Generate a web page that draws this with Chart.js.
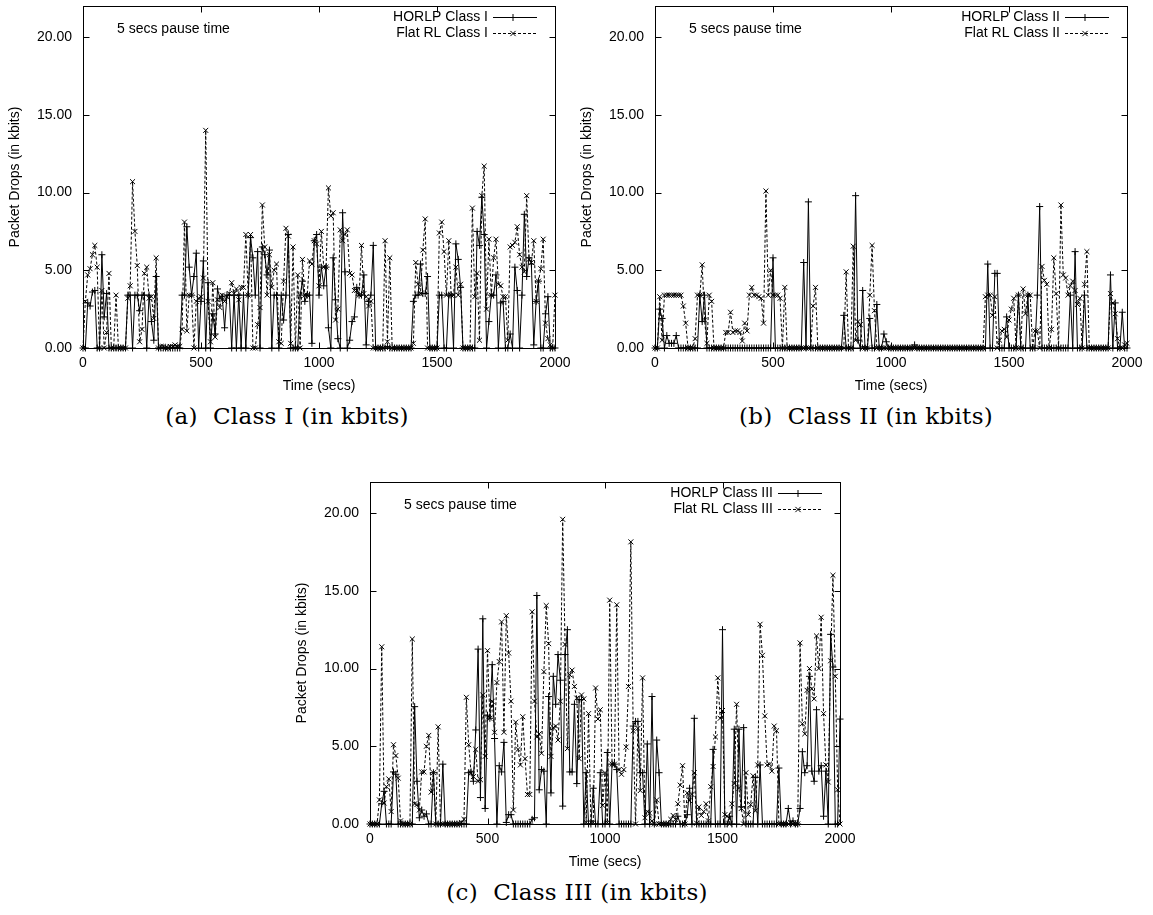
<!DOCTYPE html>
<html><head><meta charset="utf-8">
<script src="https://cdn.jsdelivr.net/npm/chart.js@4.4.0/dist/chart.umd.min.js"></script>
<style>
body{margin:0;background:#fff;width:1153px;height:915px;position:relative;overflow:hidden;font-family:"Liberation Sans",Arial,sans-serif}
canvas{position:absolute}
.cap{position:absolute;font-family:"DejaVu Serif",serif;font-size:23px;letter-spacing:0.3px;color:#000;white-space:pre;transform:translate(-50%,-50%)}
</style></head><body>
<canvas id="c1" width="578" height="400" style="left:0px;top:0px"></canvas>
<canvas id="c2" width="575" height="400" style="left:578px;top:0px"></canvas>
<canvas id="c3" width="575" height="400" style="left:288px;top:477px"></canvas>
<div class="cap" style="left:287px;top:416px">(a)  Class I (in kbits)</div>
<div class="cap" style="left:866px;top:416px">(b)  Class II (in kbits)</div>
<div class="cap" style="left:577px;top:892px">(c)  Class III (in kbits)</div>
<script>
// ---- data ----
const times = [0,10,20,30,40,50,60,70,80,90,100,110,120,130,140,150,160,170,180,190,200,210,220,230,240,250,260,270,280,290,300,310,320,330,340,350,360,370,380,390,400,410,420,430,440,450,460,470,480,490,500,510,520,530,540,550,560,570,580,590,600,610,620,630,640,650,660,670,680,690,700,710,720,730,740,750,760,770,780,790,800,810,820,830,840,850,860,870,880,890,900,910,920,930,940,950,960,970,980,990,1000,1010,1020,1030,1040,1050,1060,1070,1080,1090,1100,1110,1120,1130,1140,1150,1160,1170,1180,1190,1200,1210,1220,1230,1240,1250,1260,1270,1280,1290,1300,1310,1320,1330,1340,1350,1360,1370,1380,1390,1400,1410,1420,1430,1440,1450,1460,1470,1480,1490,1500,1510,1520,1530,1540,1550,1560,1570,1580,1590,1600,1610,1620,1630,1640,1650,1660,1670,1680,1690,1700,1710,1720,1730,1740,1750,1760,1770,1780,1790,1800,1810,1820,1830,1840,1850,1860,1870,1880,1890,1900,1910,1920,1930,1940,1950,1960,1970,1980,1990,2000];
const xTicks = [0,500,1000,1500,2000];
const yTicks = [0,5,10,15,20];

const horlpClassI = [
0,0,2.9,2.7,3.6,3.7,0,0,6.0,2.0,
3.5,0,0,0,0,0,0,0,0,3.4,
3.4,0,3.4,3.4,2.4,3.4,3.4,0,3.4,1.7,
0.5,4.6,0,0,0,0,0,0,0,0,
0,0,3.4,3.4,7.8,5.2,3.4,4.6,6.1,0,
3.0,5.6,0,4.2,0,2.2,0.9,3.8,3.2,3.3,
1.3,3.4,3.4,0,3.4,0,3.4,0,3.4,0,
3.4,7.1,5.8,3.4,6.2,0,6.5,6.0,4.7,6.3,
0,3.4,3.4,0,3.4,1.8,3.4,7.3,0,0,
0,0,3.4,4.3,3.0,3.4,3.4,0.3,6.9,7.3,
3.4,5.2,4.0,5.2,1.3,0,5.8,3.1,0.6,0,
8.7,4.9,0,0.5,1.7,2.0,3.9,3.4,3.4,4.7,
0.2,3.0,3.4,6.6,0,0,0,0,0,0.1,
0,0,0,0,0,0,0,0,0,0,
3.0,3.4,3.4,5.4,3.5,3.5,4.6,0,0,0,
0,3.4,3.4,0,0,3.4,3.4,0,6.7,5.7,
3.9,0,0,0,0,0,0,7.5,6.6,9.7,
7.3,0,1.7,3.4,3.4,4.7,0,2.9,3.0,0,
0,0.9,0,5.2,3.7,0,3.4,8.6,4.6,5.8,
5.4,0.2,3.0,4.3,0,0,2.2,3.3,0,0,
0];
const flatClassI = [
0,3.0,4.7,5.1,6.0,6.6,5.2,0,3.7,0,
1.0,4.8,0,0,3.4,0,0,0,0,3.2,
4.0,10.7,7.5,5.3,0.4,1.2,4.8,5.2,3.2,3.3,
1.9,5.8,0,0.1,0.1,0,0,0.1,0.1,0.2,
0.1,0.1,1.2,8.1,1.1,3.4,3.4,0,3.0,3.2,
3.3,4.5,14.0,3.0,0.4,4.2,0.7,3.1,2.6,3.4,
3.0,3.3,3.5,4.2,3.5,3.8,3.1,3.9,3.9,7.3,
3.4,7.3,0,0,1.5,2.6,9.2,6.5,3.4,6.0,
3.9,5.0,5.4,0.4,0.3,4.3,7.7,7.2,0.3,6.5,
0,4.7,0,5.7,3.4,3.4,5.6,5.4,6.9,6.7,
4.0,7.5,5.2,5.2,10.3,8.5,8.7,1.8,2.5,7.6,
6.9,7.3,7.6,4.8,4.7,3.7,3.7,3.4,6.6,3.5,
3.3,2.7,3.0,0,0,0,0,0,6.9,0.4,
5.8,0,0,0,0,0,0,0,0,0,
0.3,5.5,4.1,3.5,6.3,8.3,0,0,0,0,
0,7.4,8.1,6.2,3.4,6.9,3.4,3.4,5.2,3.4,
4.1,0,0,0,0,9.0,3.3,4.8,0.5,9.8,
11.7,2.5,7.0,3.4,5.8,7.0,4.1,4.0,3.3,3.3,
0.5,6.5,6.6,6.8,7.8,6.0,5.2,4.9,9.8,5.7,
5.5,6.9,3.0,4.3,5.1,7.0,1.6,0.6,0.2,0,
3.4];

const horlpClassII = [
0,0,2.5,1.9,0,0.8,0.3,0.3,0.3,0.8,
0,0,0,0,0,0,0,0,0,3.4,
1.7,3.4,0,0,0,0,0,0,0,0,
0,0,0,0,0,0,0,0,0,0,
0,0,0,0,0,0,0,0,0,0,
5.8,0,0,0,0,0,0,0,0,0,
0,0,0,5.5,0,9.4,0,0,0,0,
0,0,0,0,0,0,0,0,0,0,
2.1,0,0,0,0,9.8,0.5,0,3.7,0,
0,1.9,0,0,2.8,0,0,0.9,0.4,0,
0,0,0,0,0,0,0,0,0,0,
0.2,0,0,0,0,0,0,0,0,0,
0,0,0,0,0,0,0,0,0,0,
0,0,0,0,0,0,0,0,0,0,
0,5.4,0,0,4.8,4.8,0,0,0,2.0,
0,0,0,0,3.4,0,0,0,3.4,0,
0,0,3.4,9.1,0,0,0,0,0,0,
0,0,0,0,0,0,3.4,0,6.2,0,
0,0,3.4,0,0,0,0,0,0,0,
0,0,0,4.7,0,2.9,0,0,2.3,0,
0];
const flatClassII = [
0,0,3.3,0.5,3.4,3.4,3.4,3.4,3.4,3.4,
3.4,3.4,2.7,1.6,0,0,0,0.6,3.4,3.4,
5.35,1.8,0.3,3.4,3.0,0,0,0,0,0,
1.0,1.0,2.3,1.0,1.1,1.1,1.0,0.45,1.6,1.1,
3.4,3.9,3.4,3.4,3.3,3.2,1.6,10.1,3.4,5.0,
3.4,3.4,3.4,3.2,0,3.9,0,0,0,0,
0,0,0,0,0,0,0,2.7,3.9,0,
0,0,0,0,0,0,0,0,0,0,
0,4.9,0,0,6.55,0.5,1.7,1.5,0,0,
0,3.4,6.6,2.4,0,0,0,0,0,0,
0,0,0,0,0,0,0,0,0,0,
0,0,0,0,0,0,0,0,0,0,
0,0,0,0,0,0,0,0,0,0,
0,0,0,0,0,0,0,0,0,0,
3.3,3.4,3.4,2.1,3.3,0,0.5,1.1,1.2,0.7,
1.8,2.5,3.2,0,3.4,0,3.8,2.2,3.4,3.4,
0,1.1,1.1,0,5.25,4.35,4.1,0,1.2,5.8,
3.5,0,9.2,4.7,4.5,3.4,4.0,4.3,3.7,2.8,
3.2,0,4.1,6.2,0,0,0,0,0,0,
0,0,0,3.5,2.9,2.2,0.6,0,0,0.2,
0.3];

const horlpClassIII = [
0,0,0,0,0,1.3,2.1,0,0,0,
3.35,3.2,0,0,0,0,0,0,0,7.55,
2.75,0.4,0.9,0.5,0.65,0,0,3.3,0,0,
0,3.85,0,0,0,0,0,0,0,0,
0,0,3.3,3.35,2.75,6.05,11.25,1.7,13.2,1.0,
7.0,6.8,10.25,5.5,0,3.75,3.35,5.25,0.1,0.6,
0.6,0,0,0,0,0,0,0,0,0.3,
0.4,14.7,2.2,3.5,3.4,0,8.2,2.0,9.5,7.7,
10.9,9.25,1.15,10.9,12.5,3.35,3.35,7.7,2.6,8.0,
8.0,0,3.3,0,0,2.3,0,0,3.3,0,
0,4.6,0,3.85,3.85,3.5,0,0,0,0,
0,0,6.3,6.6,6.6,3.3,3.3,0,5.15,0,
8.2,0,5.4,3.3,0,0,0,0,0,0,
0,0.5,0,0,0,0.6,2.3,0,6.8,0,
0,0,0,0,0,0,4.8,0,0,0,
12.5,0,0,0.5,0,6.1,0,6.1,1.1,6.2,
0,0,0,0,3.0,0,3.8,0,0,0,
0,0,0,0,3.6,0,0,0,1.0,0,
0.2,0,0,1.0,4.65,3.3,3.75,9.5,3.4,2.75,
7.35,3.4,3.75,0.5,3.4,0,12.2,10.1,0,0,
6.75];
const flatClassIII = [
0,0,0,0,1.55,11.4,1.35,2.4,2.9,0.8,
5.1,4.4,2.95,0.2,0,0,0,0,11.9,1.3,
1.25,0.9,3.35,3.35,5.0,5.7,2.05,3.3,0,6.25,
0,0,0,0,0,0,0,0,0,0.1,
0.3,8.15,5.1,3.3,3.05,4.8,2.75,2.85,8.3,4.35,
11.15,6.8,7.9,5.9,9.1,10.45,13.0,5.9,13.4,11.0,
7.9,0.9,6.55,4.8,3.8,6.9,4.2,1.9,1.9,13.65,
7.9,5.6,5.8,4.55,9.8,14.05,11.6,4.35,6.2,6.3,
5.4,7.9,19.6,11.55,4.85,9.6,9.9,8.85,8.1,4.2,
8.3,8.05,0.1,7.1,0.1,0.1,8.75,6.75,7.35,1.2,
3.3,0.1,14.4,3.85,3.85,14.1,3.5,3.2,3.5,4.95,
8.85,18.15,6.0,0,6.15,2.15,9.4,0.4,0.8,0.7,
0.2,0,1.55,0,0,0,0,0,0.3,0.55,
0.3,1.3,2.5,3.75,0,2.0,1.5,1.9,3.3,0.05,
1.1,0.55,0.8,1.3,0.2,2.4,3.7,5.6,9.4,6.8,
7.3,0.6,0.5,0,1.3,2.6,7.7,2.3,1.0,0,
3.3,0.6,1.25,3.1,0.85,3.8,12.85,10.85,6.95,3.8,
3.85,3.4,6.3,6.0,0,0,0,0,0,0.1,
0,0,0,11.65,6.45,5.8,8.6,10.0,8.7,8.05,
12.1,10.0,13.3,7.1,3.8,2.7,10.5,16.0,9.5,2.2,
0];

// ---- rendering ----
const FONT = '"Liberation Sans", Arial, sans-serif';
Chart.defaults.font.family = FONT;
Chart.defaults.color = '#000';

function drawMarker(ctx, style, x, y, r){
  ctx.beginPath();
  if(style==='cross'){ ctx.moveTo(x-r,y); ctx.lineTo(x+r,y); ctx.moveTo(x,y-r); ctx.lineTo(x,y+r); }
  else { const d=r*0.75; ctx.moveTo(x-d,y-d); ctx.lineTo(x+d,y+d); ctx.moveTo(x-d,y+d); ctx.lineTo(x+d,y-d); }
  ctx.stroke();
}

const framePlugin = {
  id:'frame',
  afterDatasetsDraw(chart){
    const {ctx, chartArea:a} = chart;
    const xs = chart.scales.x, ys = chart.scales.y;
    ctx.save();
    ctx.setLineDash([]);
    ctx.strokeStyle='#000'; ctx.lineWidth=1;
    const L=Math.round(a.left)+0.5, T=Math.round(a.top)+0.5, R=Math.round(a.right)+0.5, B=Math.round(a.bottom)+0.5;
    ctx.strokeRect(L,T,R-L,B-T);
    ctx.beginPath();
    xTicks.forEach(v=>{const p=Math.round(xs.getPixelForValue(v))+0.5; ctx.moveTo(p,B); ctx.lineTo(p,B-6); ctx.moveTo(p,T); ctx.lineTo(p,T+6);});
    yTicks.forEach(v=>{const p=Math.round(ys.getPixelForValue(v))+0.5; ctx.moveTo(L,p); ctx.lineTo(L+6,p); ctx.moveTo(R,p); ctx.lineTo(R-6,p);});
    ctx.stroke();
    // annotation
    ctx.fillStyle='#000';
    ctx.font='14px '+FONT;
    ctx.textBaseline='middle';
    ctx.textAlign='left';
    ctx.fillText('5 secs pause time', a.left+34, a.top+23);
    // key
    chart.data.datasets.forEach((ds,i)=>{
      const yy = a.top + 11 + i*16;
      ctx.textAlign='right';
      ctx.fillText(ds.label, a.right-67, yy);
      ctx.setLineDash(ds.borderDash||[]);
      ctx.beginPath(); ctx.moveTo(a.right-62,yy+0.5); ctx.lineTo(a.right-18,yy+0.5); ctx.stroke();
      ctx.setLineDash([]);
      drawMarker(ctx, ds.pointStyle, a.right-42, yy+0.5, 3.5);
    });
    ctx.restore();
  }
};

function makeChart(id, box, plot, names, series){
  const yW = plot.l - box.l, xH = box.t + box.h - plot.b;
  const titlePad = (box.t + box.h) - (plot.b + 38) - 8.4;
  const yTitlePad = Math.max(0, (plot.l - 68) - box.l - 8.4);
  new Chart(document.getElementById(id), {
    type:'line',
    data:{
      datasets:[
        {label:names[0], data:times.map((t,i)=>({x:t,y:series[0][i]})), borderColor:'#000', borderWidth:1,
         pointStyle:'cross', pointRadius:3.5, pointBorderColor:'#000', pointBorderWidth:1, pointBackgroundColor:'#000', tension:0, clip:8},
        {label:names[1], data:times.map((t,i)=>({x:t,y:series[1][i]})), borderColor:'#000', borderWidth:1, borderDash:[3,2],
         pointStyle:'crossRot', pointRadius:3.5, pointBorderColor:'#000', pointBorderWidth:1, pointBackgroundColor:'#000', tension:0, clip:8}
      ]
    },
    options:{
      responsive:false, animation:false, devicePixelRatio:1,
      layout:{padding:{top:plot.t-box.t, right:box.l+box.w-plot.r, left:0, bottom:0}},
      plugins:{legend:{display:false}, tooltip:{enabled:false}},
      scales:{
        x:{type:'linear', min:0, max:2000,
           afterBuildTicks:s=>{s.ticks = xTicks.map(v=>({value:v}));},
           afterFit:s=>{s.height = xH; s.paddingLeft=0; s.paddingRight=0;},
           grid:{display:false, drawTicks:false}, border:{display:false},
           ticks:{color:'#000', font:{size:14}, padding:7, maxRotation:0, callback:v=>String(v)},
           title:{display:true, text:'Time (secs)', color:'#000', font:{size:14}, padding:{top:0,bottom:titlePad}}},
        y:{type:'linear', min:0, max:22,
           afterBuildTicks:s=>{s.ticks = yTicks.map(v=>({value:v}));},
           afterFit:s=>{s.width = yW; s.paddingTop=0; s.paddingBottom=0;},
           grid:{display:false, drawTicks:false}, border:{display:false},
           ticks:{color:'#000', font:{size:14}, padding:11, callback:v=>Number(v).toFixed(2)},
           title:{display:true, text:'Packet Drops (in kbits)', color:'#000', font:{size:14}, padding:{top:yTitlePad,bottom:0}}}
      }
    },
    plugins:[framePlugin]
  });
}

makeChart('c1', {l:0,t:0,w:578,h:400}, {l:83,t:6,r:555,b:348}, ['HORLP Class I','Flat RL Class I'], [horlpClassI, flatClassI]);
makeChart('c2', {l:578,t:0,w:575,h:400}, {l:655,t:6,r:1127,b:348}, ['HORLP Class II','Flat RL Class II'], [horlpClassII, flatClassII]);
makeChart('c3', {l:288,t:477,w:575,h:400}, {l:370,t:482,r:840,b:824}, ['HORLP Class III','Flat RL Class III'], [horlpClassIII, flatClassIII]);
</script>
</body></html>
